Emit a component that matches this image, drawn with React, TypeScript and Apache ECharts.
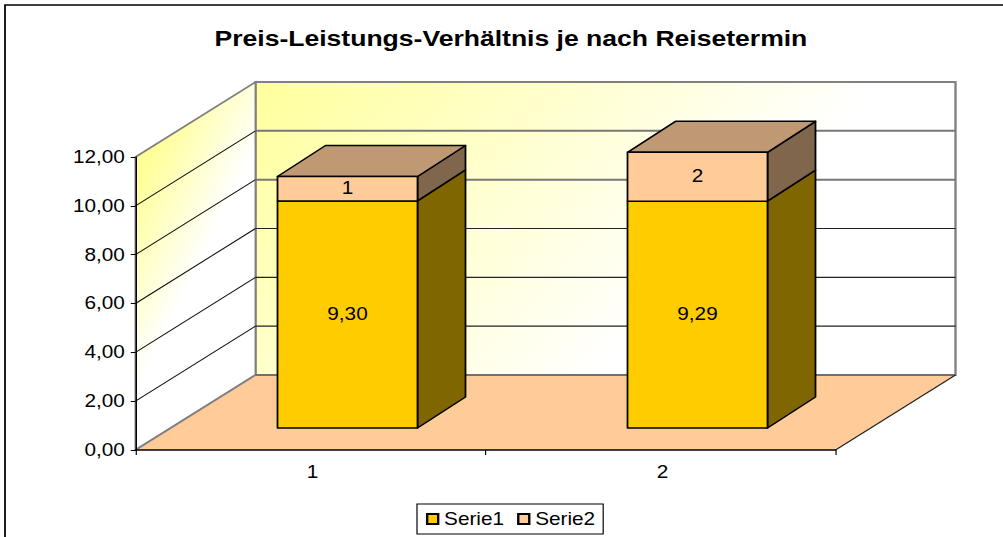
import React, { useEffect, useRef } from "react";
import * as echarts from "echarts";

const categories = ["1", "2"];
const serie1 = [9.3, 9.29];
const serie2 = [1, 2];
const yTicks = [0, 2, 4, 6, 8, 10, 12];
const seriesNames = ["Serie1", "Serie2"];
const titleText = "Preis-Leistungs-Verhältnis je nach Reisetermin";

// the reference is stretched sideways: the chart is drawn narrower and scaled up
const SX = 1003 / 850;
const px = (v: number) => v / SX;
const FONT = "'Liberation Sans', Arial, sans-serif";

const WALL_DX = px(120);
const WALL_DY = 75;
const BAR_DX = px(37);
const BAR_DY = 22;
const DEPTH_DX = px(48);
const DEPTH_DY = 31;

const grad = (x1: number, y1: number, x2: number, y2: number) =>
  new echarts.graphic.LinearGradient(
    px(x1), y1, px(x2), y2,
    [
      { offset: 0, color: "#FFFF99" },
      { offset: 1, color: "#FFFFFF" },
    ],
    true
  );

const renderWalls = (params: any, api: any) => {
  const c = params.coordSys;
  const left = c.x;
  const right = c.x + c.width;
  const y0 = api.coord([0, 0])[1];
  const yTop = api.coord([0, 12])[1];
  const children: any[] = [
    {
      type: "polygon",
      shape: { points: [[left + WALL_DX, yTop - WALL_DY], [right + WALL_DX, yTop - WALL_DY], [right + WALL_DX, y0 - WALL_DY], [left + WALL_DX, y0 - WALL_DY]] },
      style: { fill: grad(255, 60, 640, 330), stroke: "#808080", lineWidth: 2 },
    },
    {
      type: "polygon",
      shape: { points: [[left, yTop], [left + WALL_DX, yTop - WALL_DY], [left + WALL_DX, y0 - WALL_DY], [left, y0]] },
      style: { fill: grad(155, 150, 240, 180), stroke: "#808080", lineWidth: 1.6 },
    },
    {
      type: "polygon",
      shape: { points: [[left, y0], [left + WALL_DX, y0 - WALL_DY], [right + WALL_DX, y0 - WALL_DY], [right, y0]] },
      style: { fill: "#FFCC99" },
    },
    {
      type: "line",
      shape: { x1: left, y1: y0, x2: left + WALL_DX, y2: y0 - WALL_DY },
      style: { stroke: "#808080", lineWidth: 1.6 },
    },
    {
      type: "line",
      shape: { x1: left + WALL_DX, y1: y0 - WALL_DY, x2: right + WALL_DX, y2: y0 - WALL_DY },
      style: { stroke: "#707070", lineWidth: 2 },
    },
    {
      type: "line",
      shape: { x1: right, y1: y0, x2: right + WALL_DX, y2: y0 - WALL_DY },
      style: { stroke: "#222", lineWidth: 1 },
    },
  ];
  yTicks.forEach((t) => {
    if (t === 0 || t === 12) return;
    const y = api.coord([0, t])[1];
    children.push(
      {
        type: "line",
        shape: { x1: left, y1: y, x2: left + WALL_DX, y2: y - WALL_DY },
        style: { stroke: "#111", lineWidth: 1 },
      },
      {
        type: "line",
        shape: { x1: left + WALL_DX, y1: y - WALL_DY, x2: right + WALL_DX, y2: y - WALL_DY },
        style: t >= 8 ? { stroke: "#777", lineWidth: 2 } : { stroke: "#222", lineWidth: 1.2 },
      }
    );
  });
  return { type: "group", children };
};

const makeBar = (lows: number[], colors: { front: string; side: string; top?: string }, label: (v: number) => string) =>
  (_params: any, api: any) => {
    const i = api.value(0);
    const v = api.value(1);
    const low = lows[i];
    const center = api.coord([i, 0])[0];
    const w = api.size([1, 0])[0] * 0.4;
    const x1 = center - w / 2 + BAR_DX;
    const x2 = x1 + w;
    const yB = api.coord([i, low])[1] - BAR_DY;
    const yT = api.coord([i, low + v])[1] - BAR_DY;
    const line = { stroke: "#000", lineWidth: 1.5, lineJoin: "round" };
    const children: any[] = [
      {
        type: "polygon",
        shape: { points: [[x2, yB], [x2 + DEPTH_DX, yB - DEPTH_DY], [x2 + DEPTH_DX, yT - DEPTH_DY], [x2, yT]] },
        style: { fill: colors.side, ...line },
      },
    ];
    if (colors.top) {
      children.push({
        type: "polygon",
        shape: { points: [[x1, yT], [x1 + DEPTH_DX, yT - DEPTH_DY], [x2 + DEPTH_DX, yT - DEPTH_DY], [x2, yT]] },
        style: { fill: colors.top, ...line },
      });
    }
    children.push(
      {
        type: "polygon",
        shape: { points: [[x1, yB], [x2, yB], [x2, yT], [x1, yT]] },
        style: { fill: colors.front, ...line },
      },
      {
        type: "text",
        x: (x1 + x2) / 2,
        y: (yB + yT) / 2 - 0.7,
        style: { text: label(v), fill: "#000", fontFamily: FONT, fontSize: 17.6, align: "center", verticalAlign: "middle" },
      }
    );
    return { type: "group", children };
  };

export default function App() {
  const ref = useRef<HTMLDivElement>(null);
  useEffect(() => {
    const chart = echarts.init(ref.current!, null, { renderer: "svg" });
    chart.setOption({
      animation: false,
      backgroundColor: "#fff",
      textStyle: { fontFamily: FONT },
      title: {
        text: titleText,
        left: px(505),
        top: 22,
        textAlign: "center",
        textStyle: { fontFamily: FONT, fontWeight: "bold", fontSize: 22.5, color: "#000" },
      },
      grid: { left: px(135.5), width: px(700), top: 157, height: 293 },
      xAxis: {
        type: "category",
        data: categories,
        z: 10,
        axisLine: { lineStyle: { color: "#000", width: 1.5 } },
        axisTick: { show: true, length: 5, lineStyle: { color: "#000" } },
        axisLabel: { margin: 13, padding: [0, 0, 0, 3.4], fontFamily: FONT, fontSize: 17.6, color: "#000" },
      },
      yAxis: {
        type: "value",
        min: 0,
        max: 12,
        interval: 2,
        z: 10,
        splitLine: { show: false },
        axisLine: { show: true, lineStyle: { color: "#000", width: 1.2 } },
        axisTick: { show: true, length: 4, lineStyle: { color: "#000" } },
        axisLabel: {
          margin: 9,
          fontFamily: FONT,
          fontSize: 17.6,
          color: "#000",
          formatter: (v: number) => v.toFixed(2).replace(".", ","),
        },
      },
      legend: {
        data: seriesNames,
        left: px(417),
        top: 504,
        orient: "horizontal",
        icon: "rect",
        itemWidth: px(11),
        itemHeight: 10,
        itemGap: px(13),
        padding: [6, px(8), 6, px(9)],
        backgroundColor: "#fff",
        borderColor: "#000",
        borderWidth: 1,
        selectedMode: false,
        textStyle: { fontFamily: FONT, fontSize: 17.6, color: "#000", padding: [0, 0, 0, 0] },
      },
      graphic: [
        {
          type: "rect",
          z: 100,
          shape: { x: px(5), y: 5, width: 1000, height: 800 },
          style: { fill: "none", stroke: "#000", lineWidth: 1.5 },
        },
      ],
      series: [
        {
          type: "custom",
          name: "walls",
          data: [[0, 0]],
          encode: { x: 0, y: 1 },
          renderItem: renderWalls,
          z: 1,
          silent: true,
        },
        {
          type: "custom",
          name: seriesNames[0],
          data: serie1.map((v, i) => [i, v]),
          encode: { x: 0, y: 1 },
          itemStyle: { color: "#FFCC00", borderColor: "#000", borderWidth: 1.2 },
          renderItem: makeBar(categories.map(() => 0), { front: "#FFCC00", side: "#806600" }, (v) => v.toFixed(2).replace(".", ",")),
          z: 2,
        },
        {
          type: "custom",
          name: seriesNames[1],
          data: serie2.map((v, i) => [i, v]),
          encode: { x: 0, y: 1 },
          itemStyle: { color: "#FFCC99", borderColor: "#000", borderWidth: 1.2 },
          renderItem: makeBar(serie1, { front: "#FFCC99", side: "#80664D", top: "#BF9973" }, (v) => String(v)),
          z: 3,
        },
      ],
    });
    return () => chart.dispose();
  }, []);
  return (
    <div
      ref={ref}
      style={{
        position: "fixed",
        left: 0,
        top: 0,
        width: 850,
        height: 537,
        transform: `scaleX(${SX})`,
        transformOrigin: "left top",
      }}
    />
  );
}
